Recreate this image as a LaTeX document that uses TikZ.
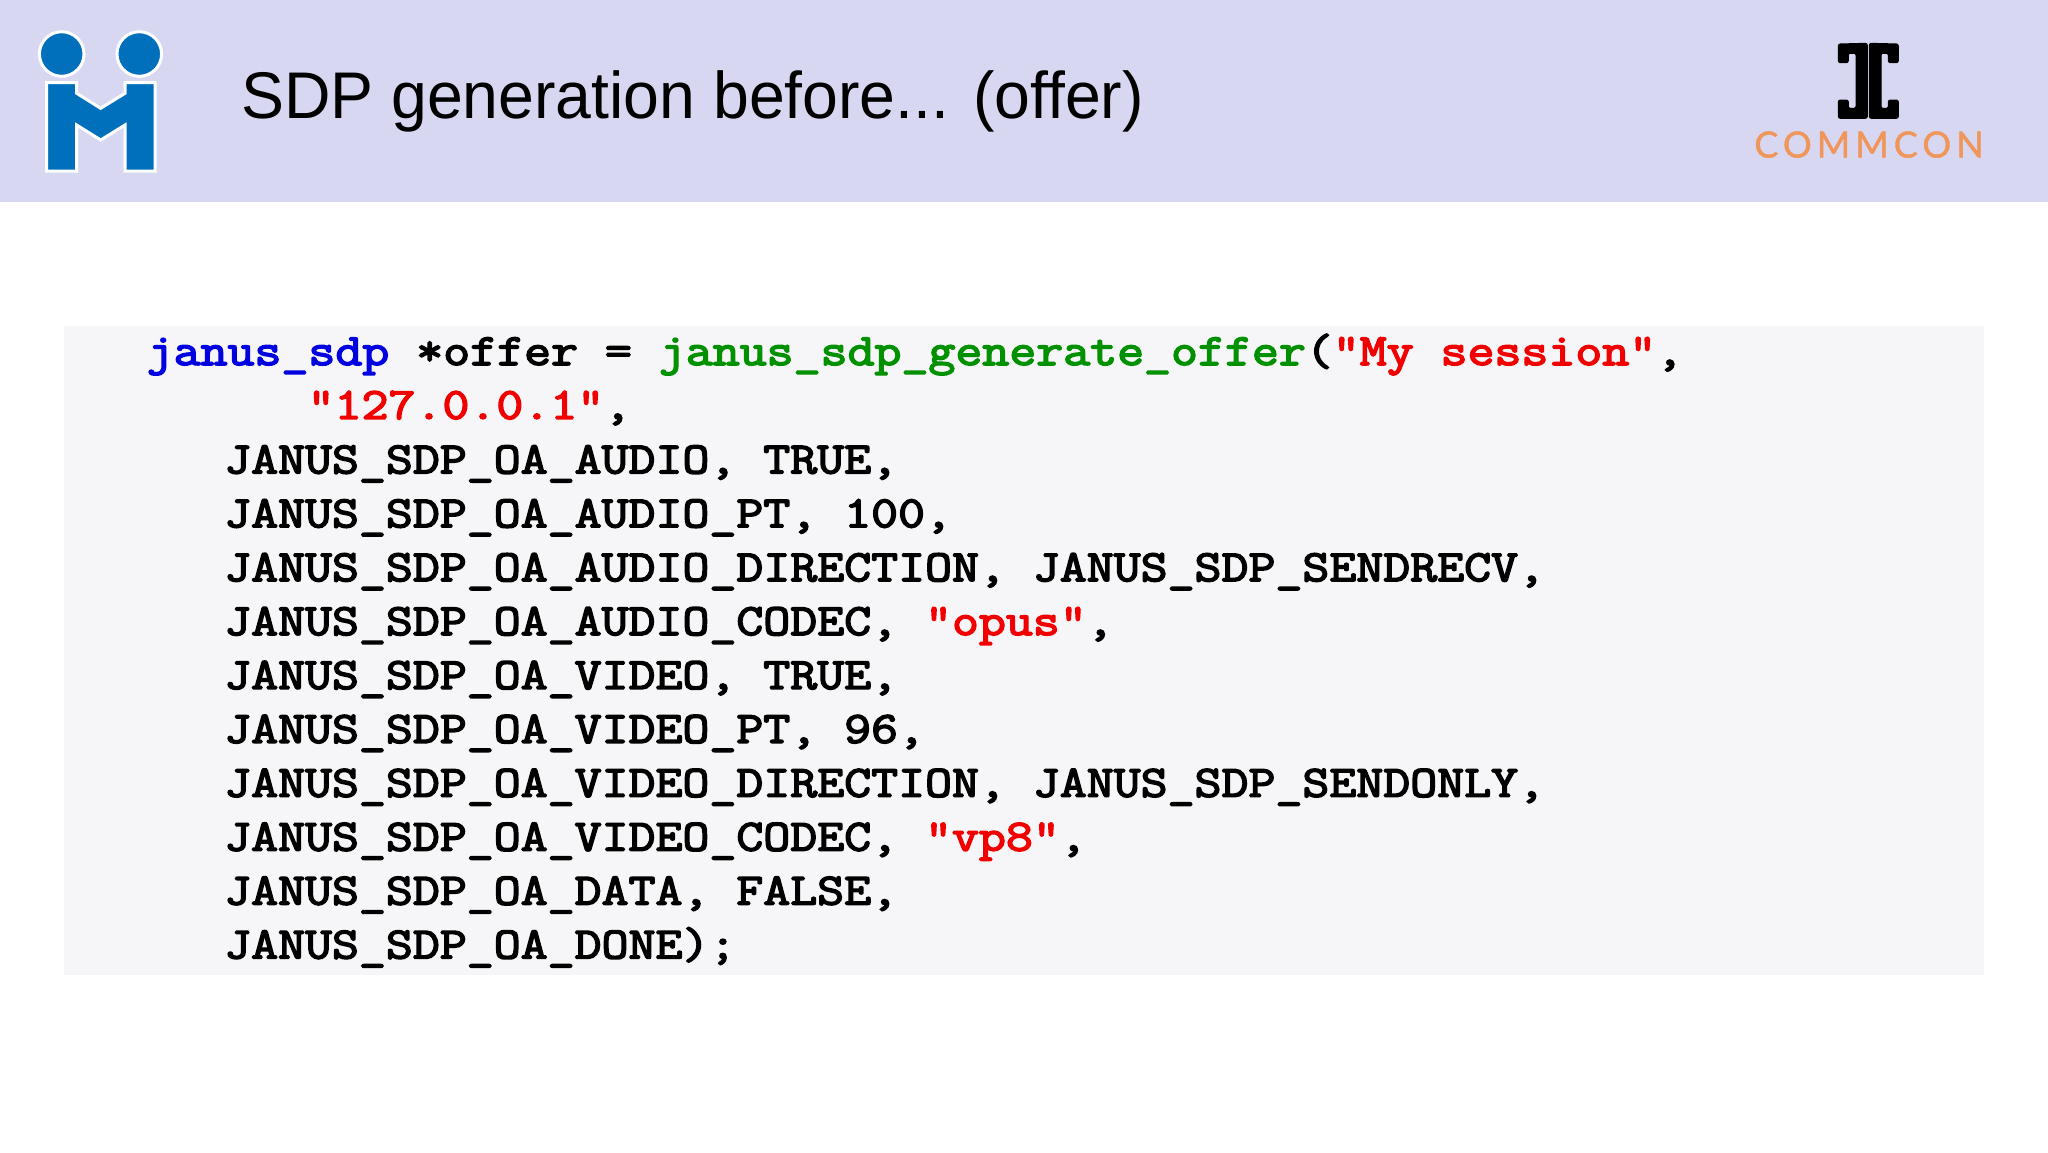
\documentclass[tikz,border=0pt]{standalone}
\usepackage{fontspec}
\setmainfont{Liberation Sans}
\newfontfamily\titlefont[FakeStretch=0.975]{Liberation Sans}
\newfontfamily\codefont[FakeStretch=1.171,FakeBold=3.5]{Latin Modern Mono}
\newfontfamily\commfont[LetterSpace=14,FakeBold=1.2]{Lato}
\definecolor{bandc}{HTML}{D8D7F1}
\definecolor{boxc}{HTML}{F6F6F8}
\definecolor{logob}{HTML}{0070BC}
\definecolor{commo}{HTML}{F0965A}
\definecolor{kw}{HTML}{0000E0}
\definecolor{fn}{HTML}{009000}
\definecolor{str}{HTML}{F00000}
\tikzset{
  band/.style={fill=bandc,draw=none},
  codebg/.style={fill=boxc,draw=none},
  logopart/.style={fill=logob,draw=white,line width=3pt},
  jcpart/.style={fill=black,draw=black,line width=1pt,rounded corners=2pt},
  titlet/.style={anchor=base west,inner sep=0pt,font=\titlefont\fontsize{66}{70}\selectfont,text=black},
  code/.style={anchor=base west,inner sep=0pt,font=\codefont\fontsize{44.7}{50}\selectfont,text=black},
  commt/.style={anchor=base,inner sep=0pt,font=\commfont\fontsize{36}{40}\selectfont,text=commo}
}
\begin{document}
\begin{tikzpicture}[x=1pt,y=-1pt]
\useasboundingbox (0,0) rectangle (2048,1152);
\fill[white] (0,0) rectangle (2048,1152);
\path[band] (0,0) rectangle (2048,202);
\path[codebg] (64,326) rectangle (1984,975);
% left logo
\path[logopart] (61.7,54) circle (22.3);
\path[logopart] (139.3,54) circle (22.3);
\path[logopart] (46.7,82.7) -- (76.7,82.7) -- (76.7,93.3) -- (100.7,108.3) -- (125,93.3) -- (125,82.7) -- (155,82.7) -- (155,171) -- (125,171) -- (125,125) -- (100.7,140) -- (76.7,125) -- (76.7,171) -- (46.7,171) -- cycle;
% right logo
\path[jcpart] (1838.3,44) -- (1867.3,43.3) -- (1867.3,118.3) -- (1838.3,118.3) -- (1838.3,100) -- (1848.3,100) -- (1848.3,108.3) -- (1856,108.3) -- (1856,53.3) -- (1848.3,53.3) -- (1848.3,62.7) -- (1838.3,62.7) -- cycle;
\path[jcpart] (1898.3,44) -- (1869.3,43.3) -- (1869.3,118.3) -- (1898.3,118.3) -- (1898.3,100) -- (1888.3,100) -- (1888.3,108.3) -- (1881,108.3) -- (1881,53.3) -- (1888.3,53.3) -- (1888.3,62.7) -- (1898.3,62.7) -- cycle;
\node[commt] (comm) at (1869,157.5) {COMMCON};
\node[titlet] (title) at (241,118) {SDP generation before... (offer)};
\node[code] (l1) at (146.5,365) {\textcolor{kw}{janus\_sdp} *offer = \textcolor{fn}{janus\_sdp\_generate\_offer}(\textcolor{str}{"My session"},};
\node[code] (l2) at (307.5,418.9) {\textcolor{str}{"127.0.0.1"},};
\node[code] (l3) at (224,473.3) {JANUS\_SDP\_OA\_AUDIO, TRUE,};
\node[code] (l4) at (224,527.2) {JANUS\_SDP\_OA\_AUDIO\_PT, 100,};
\node[code] (l5) at (224,581.1) {JANUS\_SDP\_OA\_AUDIO\_DIRECTION, JANUS\_SDP\_SENDRECV,};
\node[code] (l6) at (224,635) {JANUS\_SDP\_OA\_AUDIO\_CODEC, \textcolor{str}{"opus"},};
\node[code] (l7) at (224,688.9) {JANUS\_SDP\_OA\_VIDEO, TRUE,};
\node[code] (l8) at (224,742.8) {JANUS\_SDP\_OA\_VIDEO\_PT, 96,};
\node[code] (l9) at (224,796.7) {JANUS\_SDP\_OA\_VIDEO\_DIRECTION, JANUS\_SDP\_SENDONLY,};
\node[code] (l10) at (224,850.6) {JANUS\_SDP\_OA\_VIDEO\_CODEC, \textcolor{str}{"vp8"},};
\node[code] (l11) at (224,904.5) {JANUS\_SDP\_OA\_DATA, FALSE,};
\node[code] (l12) at (224,958.4) {JANUS\_SDP\_OA\_DONE);};
\end{tikzpicture}
\end{document}
